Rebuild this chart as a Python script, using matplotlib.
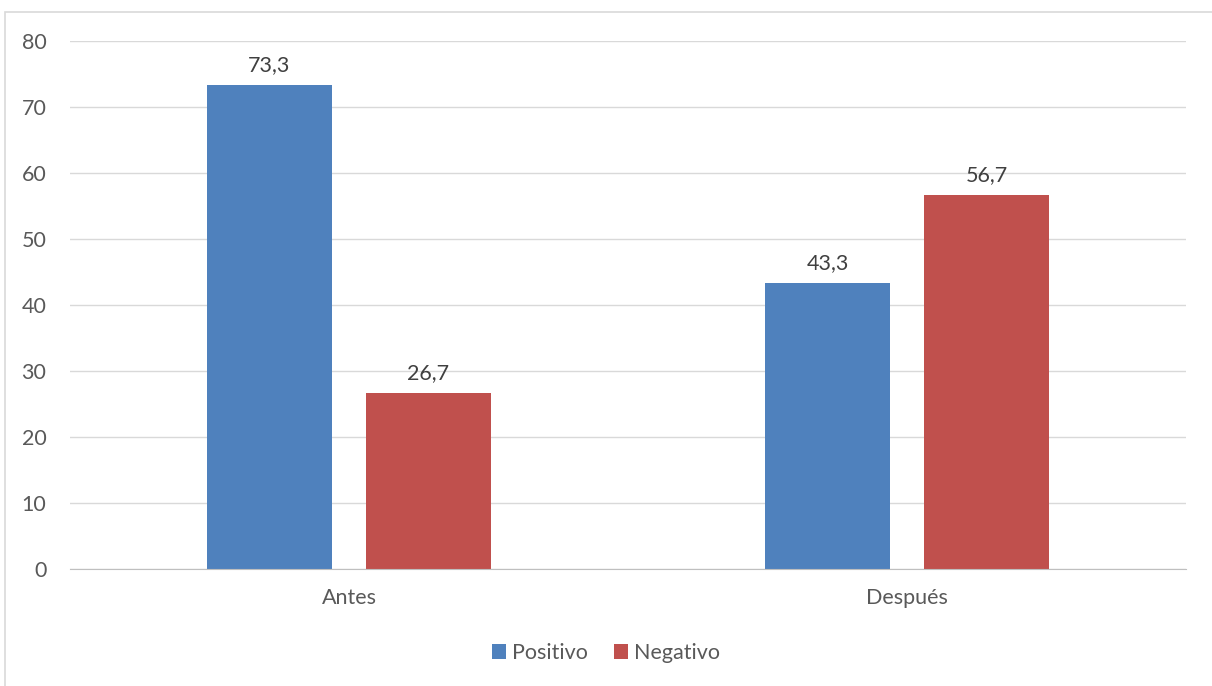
import matplotlib
matplotlib.use("Agg")
import matplotlib.pyplot as plt
from matplotlib.patches import Rectangle
import numpy as np

# datos
categorias = ["Antes", "Después"]
positivo = [73.3, 43.3]
negativo = [26.7, 56.7]
series = ["Positivo", "Negativo"]
colores = ["#4F81BD", "#C0504D"]

plt.rcParams['font.family'] = ['Lato', 'DejaVu Sans']
gris_texto = "#595959"
tam = 15.5

fig = plt.figure(figsize=(12.12, 6.86), dpi=100)
ax = fig.add_axes([70 / 1212, 1 - 569 / 686, 1116 / 1212, 528 / 686])

# marco del grafico
fig.patches.append(Rectangle((5 / 1212, -0.05), 1.2, 1 - 12 / 686 + 0.05,
                             transform=fig.transFigure, fill=False,
                             edgecolor="#d9d9d9", linewidth=1.2))

x = np.arange(len(categorias))
ancho = 0.224
desp = 0.1425
barras_p = ax.bar(x - desp, positivo, ancho, color=colores[0], label=series[0])
barras_n = ax.bar(x + desp, negativo, ancho, color=colores[1], label=series[1])

for barras, vals in ((barras_p, positivo), (barras_n, negativo)):
    for b, v in zip(barras, vals):
        ax.annotate(f"{v:.1f}".replace(".", ","),
                    (b.get_x() + b.get_width() / 2, v),
                    xytext=(0, 7), textcoords="offset points",
                    ha="center", va="bottom", fontsize=tam, color="#404040")

ax.set_xlim(-0.5, 1.5)
ax.set_ylim(0, 80)
ax.set_yticks(range(0, 81, 10))
ax.set_xticks(x)
ax.set_xticklabels(categorias)
ax.grid(axis="y", color="#d9d9d9", linewidth=1)
ax.set_axisbelow(True)
for s in ["top", "right", "left"]:
    ax.spines[s].set_visible(False)
ax.spines["bottom"].set_color("#bfbfbf")
ax.tick_params(axis="both", length=0, labelsize=tam, colors=gris_texto)
ax.tick_params(axis="y", pad=17)
ax.tick_params(axis="x", pad=14)

ax.legend(loc="center", bbox_to_anchor=(0.5, 1 - 653 / 686), bbox_transform=fig.transFigure,
          ncol=2, frameon=False, fontsize=tam, handlelength=0.65, handleheight=0.65,
          handletextpad=0.3, columnspacing=1.2, labelcolor=gris_texto)

fig.savefig("out.png", dpi=100)
